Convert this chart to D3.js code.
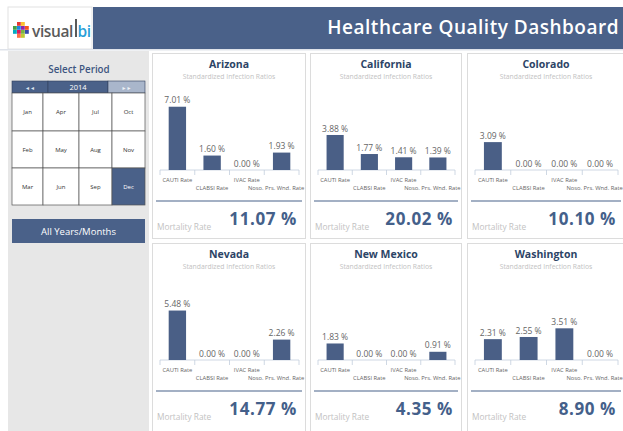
<!DOCTYPE html>
<html><head><meta charset="utf-8">
<script src="https://cdn.jsdelivr.net/npm/d3@7"></script>
<style>
html,body{margin:0;padding:0;background:#fff;}
svg{display:block;font-family:"Open Sans",sans-serif;}
</style></head>
<body><svg id="c" width="623" height="431"></svg>
<script>
const states = ["Arizona","California","Colorado","Nevada","New Mexico","Washington"];
const categories = ["CAUTI Rate","CLABSI Rate","IVAC Rate","Noso. Prs. Wnd. Rate"];
const cautiRates  = [7.01, 3.88, 3.09, 5.48, 1.83, 2.31];
const clabsiRates = [1.60, 1.77, 0.00, 0.00, 0.00, 2.55];
const ivacRates   = [0.00, 1.41, 0.00, 0.00, 0.00, 3.51];
const nosoRates   = [1.93, 1.39, 0.00, 2.26, 0.91, 0.00];
const mortality   = [11.07, 20.02, 10.10, 14.77, 4.35, 8.90];
const months = ["Jan","Apr","Jul","Oct","Feb","May","Aug","Nov","Mar","Jun","Sep","Dec"];
const selectedMonth = "Dec";
const year = "2014";

const svg = d3.select("#c");
const BLUE = "#4a6189";

// Header
svg.append("rect").attr("x",8).attr("y",7).attr("width",84).attr("height",42).attr("fill","#fff").attr("stroke","#e2e2e2");
svg.append("rect").attr("x",93).attr("y",7).attr("width",530).attr("height",42).attr("fill",BLUE);
svg.append("rect").attr("x",0).attr("y",49).attr("width",623).attr("height",1.5).attr("fill","#dfe3ea");
svg.append("text").attr("x",619).attr("y",33.5).attr("text-anchor","end").attr("fill","#fff")
  .attr("font-size",19).attr("font-weight",600).attr("letter-spacing",0.5).text("Healthcare Quality Dashboard");

// Logo icon
const cubeColors = ["#e53935","#fbc02d","#43a047","#1e88e5","#8e24aa","#f4511e","#00acc1","#d81b60","#7cb342","#3949ab","#ff7043","#c0ca33"];
const logo = svg.append("g").attr("transform","translate(13,22)");
cubeColors.forEach((c,i)=>{
  const cx = [4,8,0,4,8,12,0,4,8,12,4,8][i], cy=[0,0,4,4,4,4,8,8,8,8,12,12][i];
  logo.append("rect").attr("x",cx).attr("y",cy).attr("width",3.8).attr("height",3.8).attr("fill",c);
});
svg.append("text").attr("x",32).attr("y",37).attr("font-size",15.5).attr("font-weight",600)
  .attr("fill","#5a5a5a").attr("letter-spacing",-0.4).text("visual");
svg.append("rect").attr("x",75).attr("y",19).attr("width",2).attr("height",18).attr("fill","#5a5a5a");
svg.append("text").attr("x",77.5).attr("y",37).attr("font-size",15.5).attr("font-weight",600)
  .attr("fill","#2a9fd8").attr("letter-spacing",-0.4).text("bi");

// Left panel
svg.append("rect").attr("x",8).attr("y",51).attr("width",141).attr("height",380).attr("fill","#e7e7e7");
svg.append("text").attr("x",79).attr("y",72.5).attr("text-anchor","middle").attr("font-size",9.8)
  .attr("font-weight",600).attr("fill","#3d5580").text("Select Period");
// year bar
svg.append("rect").attr("x",12).attr("y",81).attr("width",36).attr("height",12).attr("fill",BLUE).attr("stroke","#2f3f5a").attr("stroke-width",0.6);
svg.append("rect").attr("x",48).attr("y",81).attr("width",60).attr("height",12).attr("fill",BLUE).attr("stroke","#2f3f5a").attr("stroke-width",0.6);
svg.append("rect").attr("x",108).attr("y",81).attr("width",37).attr("height",12).attr("fill","#a9b6cb").attr("stroke","#2f3f5a").attr("stroke-width",0.6);
svg.append("text").attr("x",30).attr("y",89.5).attr("text-anchor","middle").attr("font-size",5).attr("fill","#dfe6f0").text("◄◄");
svg.append("text").attr("x",78).attr("y",90).attr("text-anchor","middle").attr("font-size",7.5).attr("fill","#fff").text(year);
svg.append("text").attr("x",126.5).attr("y",89.5).attr("text-anchor","middle").attr("font-size",5).attr("fill","#eef2f7").text("►►");
// month grid
const colX = [12,43,79,112,145];
const rowY = [93,131,168,205];
months.forEach((m,i)=>{
  const c=i%4, r=Math.floor(i/4);
  const sel = m===selectedMonth;
  svg.append("rect").attr("x",colX[c]).attr("y",rowY[r]).attr("width",colX[c+1]-colX[c]).attr("height",rowY[r+1]-rowY[r])
    .attr("fill",sel?BLUE:"#fff").attr("stroke","#555").attr("stroke-width",0.7);
  svg.append("text").attr("x",(colX[c]+colX[c+1])/2).attr("y",(rowY[r]+rowY[r+1])/2+2.2)
    .attr("text-anchor","middle").attr("font-size",6).attr("fill",sel?"#fff":"#333").text(m);
});
svg.append("rect").attr("x",12).attr("y",219).attr("width",133).attr("height",24).attr("fill",BLUE);
svg.append("text").attr("x",78.5).attr("y",234.5).attr("text-anchor","middle").attr("font-size",9.5).attr("fill","#fff").text("All Years/Months");

// Panels
const panelX = [152,310,467];
const panelW = [154,152,158];
const panelY = [53,243];
const panelH = [185,200];
const yScale = d3.scaleLinear().domain([0,8]).range([0,72.2]);
const baseY = 117;

states.forEach((st,i)=>{
  const c=i%3, r=Math.floor(i/3);
  const W=panelW[c];
  const g = svg.append("g").attr("transform",`translate(${panelX[c]},${panelY[r]})`);
  g.append("rect").attr("x",0.5).attr("y",0.5).attr("width",W-1).attr("height",panelH[r]).attr("fill","#fff").attr("stroke","#dcdcdc");
  g.append("text").attr("x",W/2).attr("y",14.5).attr("text-anchor","middle").attr("font-size",10.5).attr("font-weight",700).attr("fill","#2c4466").text(st);
  g.append("text").attr("x",W/2).attr("y",26).attr("text-anchor","middle").attr("font-size",6.8).attr("fill","#c2c2c2").text("Standardized Infection Ratios");
  const vals = [cautiRates[i],clabsiRates[i],ivacRates[i],nosoRates[i]];
  const x = d3.scaleBand().domain(categories).range([8,W-7]).paddingInner(0.5).paddingOuter(0.25);
  const step = x.step();
  g.append("line").attr("x1",8).attr("x2",W-7).attr("y1",baseY).attr("y2",baseY).attr("stroke","#c3cedd").attr("stroke-width",0.8);
  d3.range(5).forEach(k=>{
    const tx = 8+k*step;
    g.append("line").attr("x1",tx).attr("x2",tx).attr("y1",baseY).attr("y2",baseY+5).attr("stroke","#c3cedd").attr("stroke-width",0.8);
  });
  categories.forEach((cat,k)=>{
    const v=vals[k];
    const bx=x(cat), bw=x.bandwidth(), h=yScale(v);
    if(h>0) g.append("rect").attr("x",bx).attr("y",baseY-h).attr("width",bw).attr("height",h).attr("fill","#4a5f86");
    g.append("text").attr("x",bx+bw/2).attr("y",baseY-h-3.3).attr("text-anchor","middle").attr("font-size",8.5).attr("fill","#666").text(v.toFixed(2)+" %");
    g.append("text").attr("x",bx+bw/2+(k===3?-5.5:0)).attr("y",k%2===0?baseY+11.5:baseY+19.5).attr("text-anchor","middle")
      .attr("font-size",5.8).attr("fill","#666").text(cat);
  });
  g.append("line").attr("x1",4).attr("x2",W-4).attr("y1",148).attr("y2",148).attr("stroke","#a3b0c4").attr("stroke-width",1.8);
  g.append("text").attr("x",5).attr("y",177).attr("font-size",8.3).attr("fill","#c2c2c2").text("Mortality Rate");
  g.append("text").attr("x",W-9).attr("y",172).attr("text-anchor","end").attr("font-size",17).attr("font-weight",700)
    .attr("letter-spacing",0.6).attr("fill","#44608a").text(mortality[i].toFixed(2)+" %");
});
</script></body></html>
